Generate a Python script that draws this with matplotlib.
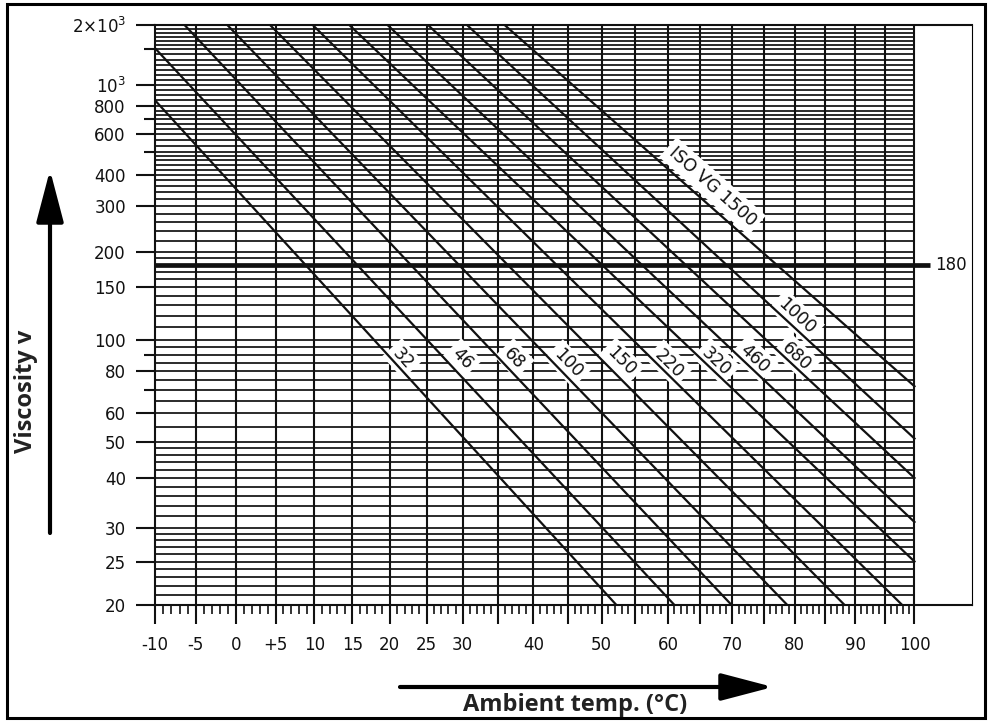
import numpy as np
import matplotlib.pyplot as plt
from matplotlib.patches import Rectangle
from matplotlib.ticker import NullFormatter

# ISO VG Kennlinien: Start- und Endpunkt (Temperatur in °C, Viskosität)
vg_namen = ["32", "46", "68", "100", "150", "220", "320", "460", "680", "1000", "ISO VG 1500"]
t_start = [-10, -10, -6.4, -1.1, 4.3, 9.8, 14.6, 19.7, 25.2, 30.6, 35.9]
v_start = [850, 1520, 2000, 2000, 2000, 2000, 2000, 2000, 2000, 2000, 2000]
t_ende = [52.2, 61.0, 69.9, 78.8, 88.2, 97.9, 100, 100, 100, 100, 100]
v_ende = [20, 20, 20, 20, 20, 20, 25, 31, 40, 51, 72]

# Lage der Beschriftungen
label_t = [21.7, 29.9, 37.3, 45.0, 52.9, 60.2, 67.5, 73.5, 80.3, 80.3, 66.9]
label_v = [87.5, 87.5, 87.5, 84.4, 85.6, 84.4, 85.6, 87.5, 88.7, 119.3, 359]

# Achsen
y_ticks = [20, 25, 30, 40, 50, 60, 80, 100, 150, 200, 300, 400, 600, 800, 1000, 2000]
y_tick_labels = ["20", "25", "30", "40", "50", "60", "80", "100", "150", "200", "300",
                 "400", "600", "800", r"$\mathdefault{10^{3}}$", r"$\mathdefault{2{\times}10^{3}}$"]
y_ticks_mittel = [70, 90, 500, 700, 1500]
y_gitter = [21, 22, 23, 24, 26, 27, 28, 29, 32, 34, 36, 38, 42, 44, 46, 48, 55, 65, 75,
            85, 95, 110, 120, 130, 140, 160, 170, 190, 220, 240, 260, 280, 320, 340,
            360, 380, 420, 440, 460, 480, 530, 560, 630, 660, 730, 760, 850, 900, 950,
            1060, 1120, 1190, 1260, 1330, 1420, 1580, 1650, 1730, 1820, 1900]
x_ticks = list(range(-10, 101, 5))
x_tick_labels = {-10: "-10", -5: "-5", 0: "0", 5: "+5", 10: "10", 15: "15", 20: "20",
                 25: "25", 30: "30", 40: "40", 50: "50", 60: "60", 70: "70", 80: "80",
                 90: "90", 100: "100"}
grenzwert = 180

schwarz = "#111111"

# Ubbelohde-Walther Darstellung: log(T) gegen log(log(v))
def x_vor(t):
    return np.log10(np.asarray(t, dtype=float) + 273.15)

def x_zurueck(u):
    return 10 ** np.asarray(u, dtype=float) - 273.15

def y_vor(v):
    v = np.maximum(np.asarray(v, dtype=float), 1.0)
    return np.log10(np.log10(v + 0.7))

def y_zurueck(u):
    return 10 ** (10 ** np.asarray(u, dtype=float)) - 0.7

fig = plt.figure(figsize=(9.91, 7.21), dpi=100)
ax = fig.add_axes([155 / 991, 116 / 721, 817 / 991, 580 / 721])
ax.set_xscale("function", functions=(x_vor, x_zurueck))
ax.set_yscale("function", functions=(y_vor, y_zurueck))
ax.set_xlim(-10, 110)
ax.set_ylim(20, 2000)

# Gitter
ax.hlines(y_gitter + y_ticks + y_ticks_mittel, -10, 100, color=schwarz, lw=1.25, zorder=1)
ax.vlines(x_ticks[1:], 20, 2000, color=schwarz, lw=1.5, zorder=1)
ax.hlines(grenzwert, -10, 102.6, color=schwarz, lw=3.4, zorder=4, clip_on=False)
ax.text(103.6, grenzwert, str(grenzwert), fontsize=12, ha="left", va="center", color=schwarz)

# Kennlinien
for i in range(len(vg_namen)):
    ax.plot([t_start[i], t_ende[i]], [v_start[i], v_ende[i]], color=schwarz, lw=1.6, zorder=4)
    p = ax.transData.transform([[t_start[i], v_start[i]], [t_ende[i], v_ende[i]]])
    winkel = np.degrees(np.arctan2(p[1, 1] - p[0, 1], p[1, 0] - p[0, 0]))
    ax.text(label_t[i], label_v[i], vg_namen[i], fontsize=12.5, rotation=winkel,
            rotation_mode="anchor", ha="center", va="center", color=schwarz, zorder=3,
            bbox=dict(boxstyle="square,pad=0.25", fc="white", ec="none"))

ax.set_xticks(x_ticks)
ax.set_xticklabels([x_tick_labels.get(t, "") for t in x_ticks])
ax.set_xticks([t for t in range(-10, 101) if t % 5 != 0], minor=True)
ax.set_yticks(y_ticks)
ax.set_yticklabels(y_tick_labels)
ax.set_yticks(y_ticks_mittel, minor=True)
ax.yaxis.set_minor_formatter(NullFormatter())
ax.xaxis.set_minor_formatter(NullFormatter())
ax.tick_params(axis="both", which="major", direction="out", length=14, width=1.5,
               labelsize=12, color=schwarz, labelcolor=schwarz)
ax.tick_params(axis="x", which="major", pad=8)
ax.tick_params(axis="y", which="major", pad=7)
ax.tick_params(axis="x", which="minor", direction="out", length=6.5, width=1.2, color=schwarz)
ax.tick_params(axis="y", which="minor", direction="out", length=8, width=1.5, color=schwarz)

for seite in ["left", "top", "bottom"]:
    ax.spines[seite].set_linewidth(1.5)
    ax.spines[seite].set_color(schwarz)
ax.spines["right"].set_linewidth(0.8)

# Achsenbeschriftung mit Pfeilen
fig.text(26 / 991, 1 - 391 / 721, "Viscosity v", rotation=90, fontsize=17, fontweight="bold",
         family="Open Sans", ha="center", va="center", color="#222222")
fig.text(575 / 991, 1 - 705 / 721, "Ambient temp. (°C)", fontsize=17, fontweight="bold",
         family="Open Sans", ha="center", va="center", color="#222222")
pfeil = dict(arrowstyle="-|>,head_length=1.6,head_width=0.42", lw=3, color="black",
             shrinkA=0, shrinkB=0, mutation_scale=20)
fig.add_artist(plt.Annotation("", xy=(50, 721 - 170), xytext=(50, 721 - 533),
                              xycoords="figure pixels", arrowprops=pfeil))
fig.add_artist(plt.Annotation("", xy=(773, 721 - 687), xytext=(400, 721 - 687),
                              xycoords="figure pixels", arrowprops=pfeil))

# Rahmen
fig.add_artist(Rectangle((7 / 991, 3 / 721), 978 / 991, 714 / 721, transform=fig.transFigure,
                         fill=False, lw=2.2, ec="black"))

fig.savefig("out.png", dpi=100)
